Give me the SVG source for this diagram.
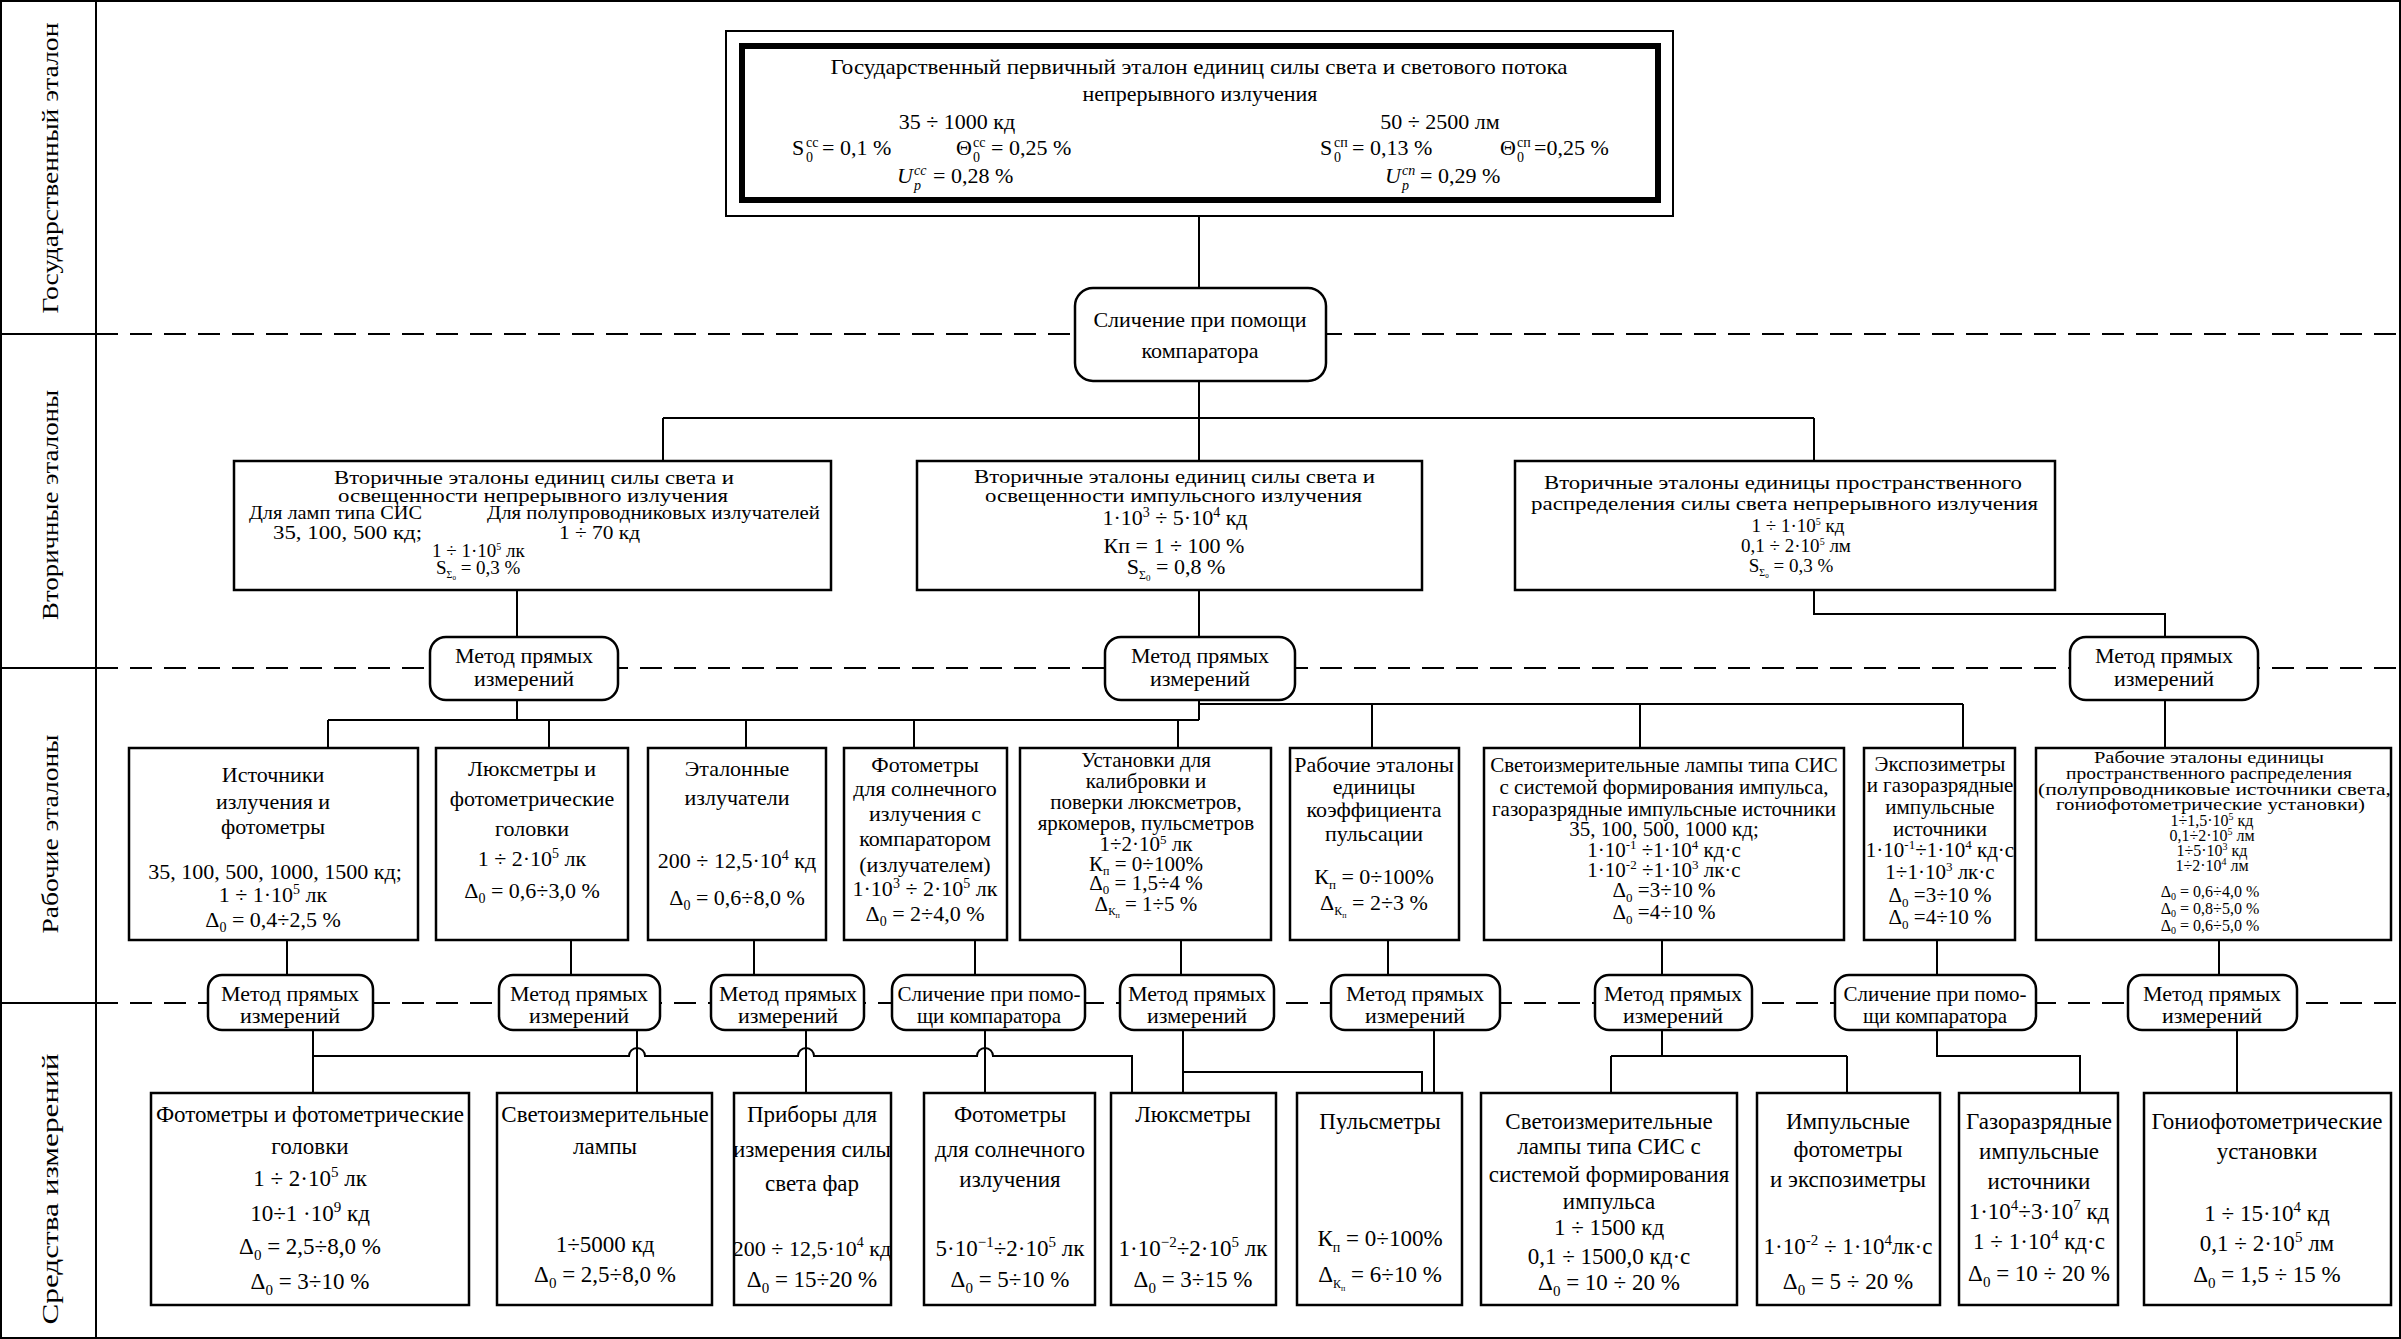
<svg xmlns="http://www.w3.org/2000/svg" width="2401" height="1339" viewBox="0 0 2401 1339">
<style>
.t{font-family:"Liberation Serif","Times New Roman",serif;fill:#000}
.c{text-anchor:middle}
.f14{font-size:14px}.f15{font-size:15px}.f16{font-size:16px}.f19{font-size:19px}.f21{font-size:21px}.f22{font-size:22px}.f23{font-size:23px}.f24{font-size:24px}
.i{font-style:italic}
.box{fill:#fff;stroke:#000;stroke-width:2.5}
.conn path{fill:none;stroke:#000;stroke-width:2}
.dash{stroke:#000;stroke-width:2;stroke-dasharray:22 12;fill:none}
.frame{fill:none;stroke:#000;stroke-width:2}
</style>
<rect x="0" y="0" width="2401" height="1339" fill="#fff"/>
<g id="frame">
<rect class="frame" x="1" y="1" width="2399" height="1337"/>
<path class="frame" d="M96 0V1339M0 334H96M0 668H96M0 1003H96"/>
<path class="dash" d="M96 334H2401M96 668H2401M96 1003H2401"/>
<text class="t f24 c" transform="translate(50,168) rotate(-90)" y="8" textLength="291" lengthAdjust="spacingAndGlyphs">Государственный эталон</text>
<text class="t f24 c" transform="translate(50,505) rotate(-90)" y="8" textLength="230" lengthAdjust="spacingAndGlyphs">Вторичные эталоны</text>
<text class="t f24 c" transform="translate(50,834) rotate(-90)" y="8" textLength="199" lengthAdjust="spacingAndGlyphs">Рабочие эталоны</text>
<text class="t f24 c" transform="translate(50,1189) rotate(-90)" y="8" textLength="271" lengthAdjust="spacingAndGlyphs">Средства измерений</text>
</g>
<g class="conn" id="connectors">
<path d="M1199 216V288"/>
<path d="M1199 381V418M663 418H1814M663 418V461M1199 418V461M1814 418V461"/>
<path d="M517 590V637M1199 590V637M1814 590V614H2165V637"/>
<path d="M517 700V720M328 720H1199M328 720V748M549 720V748M746 720V748M914 720V748M1178 720V748"/>
<path d="M1199 700V720M1199 704H1963M1372 704V748M1640 704V748M1963 704V748"/>
<path d="M2165 700V748"/>
<path d="M287 940V975M571 940V975M754 940V975M975 940V975M1181 940V975M1388 940V975M1662 940V975M1937 940V975M2219 940V975"/>
<path d="M313 1029V1093M313 1056H629A8 8 0 0 1 645 1056H798A8 8 0 0 1 814 1056H977A8 8 0 0 1 993 1056H1132V1093"/>
<path d="M637 1029V1093M806 1029V1093M985 1029V1093"/>
<path d="M1183 1029V1093M1183 1072H1422V1093M1434 1029V1093"/>
<path d="M1662 1029V1056M1611 1056H1847M1611 1056V1093M1847 1056V1093"/>
<path d="M1937 1029V1056H2080V1093"/>
<path d="M2237 1029V1093"/>
</g>
<g id="primary">
<rect x="726" y="31" width="947" height="185" fill="#fff" stroke="#000" stroke-width="2"/>
<rect x="742" y="46" width="916" height="154" fill="none" stroke="#000" stroke-width="6"/>
<text class="t f22 c" x="1199" y="74" textLength="737" lengthAdjust="spacingAndGlyphs">Государственный первичный эталон единиц силы света и светового потока</text>
<text class="t f22 c" x="1200" y="101">непрерывного излучения</text>
<text class="t f22 c" x="957" y="129">35 ÷ 1000 кд</text>
<text class="t f22 c" x="1440" y="129">50 ÷ 2500 лм</text>
<text class="t f22" x="792" y="155">S</text><text class="t f14" x="806" y="147">сс</text><text class="t f14" x="806" y="162">0</text><text class="t f22" x="822" y="155">= 0,1 %</text>
<text class="t f22" x="956" y="155">Θ</text><text class="t f14" x="973" y="147">сс</text><text class="t f14" x="973" y="162">0</text><text class="t f22" x="991" y="155">= 0,25 %</text>
<text class="t f22" x="1320" y="155">S</text><text class="t f14" x="1334" y="147">сп</text><text class="t f14" x="1334" y="162">0</text><text class="t f22" x="1352" y="155">= 0,13 %</text>
<text class="t f22" x="1500" y="155">Θ</text><text class="t f14" x="1517" y="147">сп</text><text class="t f14" x="1517" y="162">0</text><text class="t f22" x="1534" y="155">=0,25 %</text>
<text class="t f22 i" x="897" y="183">U</text><text class="t f14 i" x="914" y="175">сс</text><text class="t f14 i" x="914" y="190">p</text><text class="t f22" x="933" y="183">= 0,28 %</text>
<text class="t f22 i" x="1385" y="183">U</text><text class="t f14 i" x="1402" y="175">сп</text><text class="t f14 i" x="1402" y="190">p</text><text class="t f22" x="1420" y="183">= 0,29 %</text>
</g>
<g id="comparator">
<rect class="box" x="1075" y="288" width="251" height="93" rx="18"/>
<text class="t f22 c" x="1200" y="327">Сличение при помощи</text>
<text class="t f22 c" x="1200" y="358">компаратора</text>
</g>
<g id="sec1">
<rect class="box" x="234" y="461" width="597" height="129"/>
<text class="t f19" x="334" y="484" textLength="400" lengthAdjust="spacingAndGlyphs">Вторичные эталоны единиц силы света и</text>
<text class="t f19" x="338" y="502" textLength="390" lengthAdjust="spacingAndGlyphs">освещенности непрерывного излучения</text>
<text class="t f19" x="249" y="519" textLength="173" lengthAdjust="spacingAndGlyphs">Для ламп типа СИС</text>
<text class="t f19" x="487" y="519" textLength="333" lengthAdjust="spacingAndGlyphs">Для полупроводниковых излучателей</text>
<text class="t f19" x="273" y="539" textLength="149" lengthAdjust="spacingAndGlyphs">35, 100, 500 кд;</text>
<text class="t f19" x="559" y="539" textLength="81" lengthAdjust="spacingAndGlyphs">1 ÷ 70 кд</text>
<text class="t f19" x="432" y="557">1 ÷ 1·10<tspan dy="-7" font-size="10">5</tspan><tspan dy="7"> лк</tspan></text>
<text class="t f19" x="436" y="574">S<tspan dy="4" font-size="10">Σ</tspan><tspan dy="2" font-size="7">0</tspan><tspan dy="-6"> = 0,3 %</tspan></text>
</g>
<g id="sec2">
<rect class="box" x="917" y="461" width="505" height="129"/>
<text class="t f19" x="974" y="483" textLength="401" lengthAdjust="spacingAndGlyphs">Вторичные эталоны единиц силы света и</text>
<text class="t f19" x="985" y="502" textLength="377" lengthAdjust="spacingAndGlyphs">освещенности импульсного излучения</text>
<text class="t f22 c" x="1175" y="525">1·10<tspan dy="-8" font-size="14">3</tspan><tspan dy="8"> ÷ 5·10</tspan><tspan dy="-8" font-size="14">4</tspan><tspan dy="8"> кд</tspan></text>
<text class="t f22 c" x="1174" y="553">Кп = 1 ÷ 100 %</text>
<text class="t f22 c" x="1176" y="574">S<tspan dy="5" font-size="12">Σ</tspan><tspan dy="2" font-size="9">0</tspan><tspan dy="-7"> = 0,8 %</tspan></text>
</g>
<g id="sec3">
<rect class="box" x="1515" y="461" width="540" height="129"/>
<text class="t f19" x="1544" y="489" textLength="478" lengthAdjust="spacingAndGlyphs">Вторичные эталоны единицы пространственного</text>
<text class="t f19" x="1531" y="510" textLength="507" lengthAdjust="spacingAndGlyphs">распределения силы света непрерывного излучения</text>
<text class="t f19 c" x="1798" y="532">1 ÷ 1·10<tspan dy="-7" font-size="10">5</tspan><tspan dy="7"> кд</tspan></text>
<text class="t f19 c" x="1796" y="552">0,1 ÷ 2·10<tspan dy="-7" font-size="10">5</tspan><tspan dy="7"> лм</tspan></text>
<text class="t f19 c" x="1791" y="572">S<tspan dy="4" font-size="10">Σ</tspan><tspan dy="2" font-size="7">0</tspan><tspan dy="-6"> = 0,3 %</tspan></text>
</g>
<g id="meth2a"><rect class="box" x="430" y="637" width="188" height="63" rx="16"/>
<text class="t f22 c" x="524" y="663">Метод прямых</text><text class="t f22 c" x="524" y="686">измерений</text></g>
<g id="meth2b"><rect class="box" x="1105" y="637" width="190" height="63" rx="16"/>
<text class="t f22 c" x="1200" y="663">Метод прямых</text><text class="t f22 c" x="1200" y="686">измерений</text></g>
<g id="meth2c"><rect class="box" x="2070" y="637" width="188" height="63" rx="16"/>
<text class="t f22 c" x="2164" y="663">Метод прямых</text><text class="t f22 c" x="2164" y="686">измерений</text></g>

<g id="w1"><rect class="box" x="129" y="748" width="289" height="192"/>
<text class="t f22 c" x="273" y="782">Источники</text>
<text class="t f22 c" x="273" y="809">излучения и</text>
<text class="t f22 c" x="273" y="834">фотометры</text>
<text class="t f22 c" x="275" y="879">35, 100, 500, 1000, 1500 кд;</text>
<text class="t f22 c" x="273" y="902">1 ÷ 1·10<tspan dy="-8" font-size="14">5</tspan><tspan dy="8"> лк</tspan></text>
<text class="t f22 c" x="273" y="927">Δ<tspan dy="5" font-size="14">0</tspan><tspan dy="-5"> = 0,4÷2,5 %</tspan></text></g>
<g id="w2"><rect class="box" x="436" y="748" width="192" height="192"/>
<text class="t f22 c" x="532" y="776">Люксметры и</text>
<text class="t f22 c" x="532" y="806">фотометрические</text>
<text class="t f22 c" x="532" y="836">головки</text>
<text class="t f22 c" x="532" y="866">1 ÷ 2·10<tspan dy="-8" font-size="14">5</tspan><tspan dy="8"> лк</tspan></text>
<text class="t f22 c" x="532" y="898">Δ<tspan dy="5" font-size="14">0</tspan><tspan dy="-5"> = 0,6÷3,0 %</tspan></text></g>
<g id="w3"><rect class="box" x="648" y="748" width="178" height="192"/>
<text class="t f22 c" x="737" y="776">Эталонные</text>
<text class="t f22 c" x="737" y="805">излучатели</text>
<text class="t f22 c" x="737" y="868">200 ÷ 12,5·10<tspan dy="-8" font-size="14">4</tspan><tspan dy="8"> кд</tspan></text>
<text class="t f22 c" x="737" y="905">Δ<tspan dy="5" font-size="14">0</tspan><tspan dy="-5"> = 0,6÷8,0 %</tspan></text></g>
<g id="w4"><rect class="box" x="844" y="748" width="163" height="192"/>
<text class="t f22 c" x="925" y="772">Фотометры</text>
<text class="t f22 c" x="925" y="796">для солнечного</text>
<text class="t f22 c" x="925" y="821">излучения с</text>
<text class="t f22 c" x="925" y="846">компаратором</text>
<text class="t f22 c" x="925" y="872">(излучателем)</text>
<text class="t f22 c" x="925" y="896">1·10<tspan dy="-8" font-size="14">3</tspan><tspan dy="8"> ÷ 2·10</tspan><tspan dy="-8" font-size="14">5</tspan><tspan dy="8"> лк</tspan></text>
<text class="t f22 c" x="925" y="921">Δ<tspan dy="5" font-size="14">0</tspan><tspan dy="-5"> = 2÷4,0 %</tspan></text></g>
<g id="w5"><rect class="box" x="1020" y="748" width="251" height="192"/>
<text class="t f21 c" x="1146" y="767">Установки для</text>
<text class="t f21 c" x="1146" y="788">калибровки и</text>
<text class="t f21 c" x="1146" y="809">поверки люксметров,</text>
<text class="t f21 c" x="1146" y="830">яркомеров, пульсметров</text>
<text class="t f21 c" x="1146" y="851">1÷2·10<tspan dy="-7" font-size="13">5</tspan><tspan dy="7"> лк</tspan></text>
<text class="t f21 c" x="1146" y="871">К<tspan dy="4" font-size="12">п</tspan><tspan dy="-4"> = 0÷100%</tspan></text>
<text class="t f21 c" x="1146" y="890">Δ<tspan dy="4" font-size="13">0</tspan><tspan dy="-4"> = 1,5÷4 %</tspan></text>
<text class="t f21 c" x="1146" y="911">Δ<tspan dy="4" font-size="11">К</tspan><tspan dy="3" font-size="8">п</tspan><tspan dy="-7"> = 1÷5 %</tspan></text></g>
<g id="w6"><rect class="box" x="1290" y="748" width="169" height="192"/>
<text class="t f22 c" x="1374" y="772">Рабочие эталоны</text>
<text class="t f22 c" x="1374" y="794">единицы</text>
<text class="t f22 c" x="1374" y="817">коэффициента</text>
<text class="t f22 c" x="1374" y="841">пульсации</text>
<text class="t f22 c" x="1374" y="884">К<tspan dy="5" font-size="13">п</tspan><tspan dy="-5"> = 0÷100%</tspan></text>
<text class="t f22 c" x="1374" y="910">Δ<tspan dy="5" font-size="12">К</tspan><tspan dy="3" font-size="8">п</tspan><tspan dy="-8"> = 2÷3 %</tspan></text></g>
<g id="w7"><rect class="box" x="1484" y="748" width="360" height="192"/>
<text class="t f21 c" x="1664" y="772">Светоизмерительные лампы типа СИС</text>
<text class="t f21 c" x="1664" y="794">с системой формирования импульса,</text>
<text class="t f21 c" x="1664" y="816">газоразрядные импульсные источники</text>
<text class="t f21 c" x="1664" y="836">35, 100, 500, 1000 кд;</text>
<text class="t f21 c" x="1664" y="857">1·10<tspan dy="-8" font-size="13">-1</tspan><tspan dy="8"> ÷1·10</tspan><tspan dy="-8" font-size="13">4</tspan><tspan dy="8"> кд·с</tspan></text>
<text class="t f21 c" x="1664" y="877">1·10<tspan dy="-8" font-size="13">-2</tspan><tspan dy="8"> ÷1·10</tspan><tspan dy="-8" font-size="13">3</tspan><tspan dy="8"> лк·с</tspan></text>
<text class="t f21 c" x="1664" y="897">Δ<tspan dy="5" font-size="13">0</tspan><tspan dy="-5"> =3÷10 %</tspan></text>
<text class="t f21 c" x="1664" y="919">Δ<tspan dy="5" font-size="13">0</tspan><tspan dy="-5"> =4÷10 %</tspan></text></g>
<g id="w8"><rect class="box" x="1864" y="748" width="151" height="192"/>
<text class="t f21 c" x="1940" y="771">Экспозиметры</text>
<text class="t f21 c" x="1940" y="792">и газоразрядные</text>
<text class="t f21 c" x="1940" y="814">импульсные</text>
<text class="t f21 c" x="1940" y="836">источники</text>
<text class="t f21 c" x="1940" y="857">1·10<tspan dy="-8" font-size="13">-1</tspan><tspan dy="8">÷1·10</tspan><tspan dy="-8" font-size="13">4</tspan><tspan dy="8"> кд·с</tspan></text>
<text class="t f21 c" x="1940" y="879">1÷1·10<tspan dy="-8" font-size="13">3</tspan><tspan dy="8"> лк·с</tspan></text>
<text class="t f21 c" x="1940" y="902">Δ<tspan dy="5" font-size="13">0</tspan><tspan dy="-5"> =3÷10 %</tspan></text>
<text class="t f21 c" x="1940" y="924">Δ<tspan dy="5" font-size="13">0</tspan><tspan dy="-5"> =4÷10 %</tspan></text></g>
<g id="w9"><rect class="box" x="2036" y="748" width="355" height="192"/>
<text class="t f16" x="2094" y="763" textLength="230" lengthAdjust="spacingAndGlyphs">Рабочие эталоны единицы</text>
<text class="t f16" x="2066" y="779" textLength="286" lengthAdjust="spacingAndGlyphs">пространственного распределения</text>
<text class="t f16" x="2038" y="795" textLength="353" lengthAdjust="spacingAndGlyphs">(полупроводниковые источники света,</text>
<text class="t f16" x="2056" y="810" textLength="309" lengthAdjust="spacingAndGlyphs">гониофотометрические установки)</text>
<text class="t f16 c" x="2212" y="826">1÷1,5·10<tspan dy="-6" font-size="10">5</tspan><tspan dy="6"> кд</tspan></text>
<text class="t f16 c" x="2212" y="841">0,1÷2·10<tspan dy="-6" font-size="10">5</tspan><tspan dy="6"> лм</tspan></text>
<text class="t f16 c" x="2212" y="856">1÷5·10<tspan dy="-6" font-size="10">3</tspan><tspan dy="6"> кд</tspan></text>
<text class="t f16 c" x="2212" y="871">1÷2·10<tspan dy="-6" font-size="10">4</tspan><tspan dy="6"> лм</tspan></text>
<text class="t f16 c" x="2210" y="897">Δ<tspan dy="3" font-size="10">0</tspan><tspan dy="-3">  = 0,6÷4,0 %</tspan></text>
<text class="t f16 c" x="2210" y="914">Δ<tspan dy="3" font-size="10">0</tspan><tspan dy="-3">  = 0,8÷5,0 %</tspan></text>
<text class="t f16 c" x="2210" y="931">Δ<tspan dy="3" font-size="10">0</tspan><tspan dy="-3">  = 0,6÷5,0 %</tspan></text></g>

<g id="m1"><rect class="box" x="208" y="975" width="165" height="55" rx="14"/>
<text class="t f22 c" x="290" y="1001">Метод прямых</text><text class="t f22 c" x="290" y="1023">измерений</text></g>
<g id="m2"><rect class="box" x="499" y="975" width="161" height="55" rx="14"/>
<text class="t f22 c" x="579" y="1001">Метод прямых</text><text class="t f22 c" x="579" y="1023">измерений</text></g>
<g id="m3"><rect class="box" x="711" y="975" width="153" height="55" rx="14"/>
<text class="t f22 c" x="788" y="1001">Метод прямых</text><text class="t f22 c" x="788" y="1023">измерений</text></g>
<g id="m4"><rect class="box" x="892" y="975" width="193" height="55" rx="14"/>
<text class="t f21 c" x="989" y="1001">Сличение при помо-</text><text class="t f21 c" x="989" y="1023">щи компаратора</text></g>
<g id="m5"><rect class="box" x="1120" y="975" width="154" height="55" rx="14"/>
<text class="t f22 c" x="1197" y="1001">Метод прямых</text><text class="t f22 c" x="1197" y="1023">измерений</text></g>
<g id="m6"><rect class="box" x="1331" y="975" width="169" height="55" rx="14"/>
<text class="t f22 c" x="1415" y="1001">Метод прямых</text><text class="t f22 c" x="1415" y="1023">измерений</text></g>
<g id="m7"><rect class="box" x="1595" y="975" width="157" height="55" rx="14"/>
<text class="t f22 c" x="1673" y="1001">Метод прямых</text><text class="t f22 c" x="1673" y="1023">измерений</text></g>
<g id="m8"><rect class="box" x="1835" y="975" width="201" height="55" rx="14"/>
<text class="t f21 c" x="1935" y="1001">Сличение при помо-</text><text class="t f21 c" x="1935" y="1023">щи компаратора</text></g>
<g id="m9"><rect class="box" x="2128" y="975" width="169" height="55" rx="14"/>
<text class="t f22 c" x="2212" y="1001">Метод прямых</text><text class="t f22 c" x="2212" y="1023">измерений</text></g>

<g id="b1"><rect class="box" x="151" y="1093" width="318" height="212"/>
<text class="t f23 c" x="310" y="1122">Фотометры и фотометрические</text>
<text class="t f23 c" x="310" y="1154">головки</text>
<text class="t f23 c" x="310" y="1186">1 ÷ 2·10<tspan dy="-9" font-size="15">5</tspan><tspan dy="9"> лк</tspan></text>
<text class="t f23 c" x="310" y="1221">10÷1 ·10<tspan dy="-9" font-size="15">9</tspan><tspan dy="9">  кд</tspan></text>
<text class="t f23 c" x="310" y="1254">Δ<tspan dy="6" font-size="15">0</tspan><tspan dy="-6"> = 2,5÷8,0 %</tspan></text>
<text class="t f23 c" x="310" y="1289">Δ<tspan dy="6" font-size="15">0</tspan><tspan dy="-6"> = 3÷10 %</tspan></text></g>
<g id="b2"><rect class="box" x="497" y="1093" width="215" height="212"/>
<text class="t f23 c" x="605" y="1122">Светоизмерительные</text>
<text class="t f23 c" x="605" y="1154">лампы</text>
<text class="t f23 c" x="605" y="1252">1÷5000 кд</text>
<text class="t f23 c" x="605" y="1282">Δ<tspan dy="6" font-size="15">0</tspan><tspan dy="-6"> = 2,5÷8,0 %</tspan></text></g>
<g id="b3"><rect class="box" x="734" y="1093" width="157" height="212"/>
<text class="t f23 c" x="812" y="1122">Приборы для</text>
<text class="t f23 c" x="812" y="1157">измерения силы</text>
<text class="t f23 c" x="812" y="1191">света фар</text>
<text class="t f22 c" x="812" y="1256">200 ÷ 12,5·10<tspan dy="-9" font-size="14">4</tspan><tspan dy="9"> кд</tspan></text>
<text class="t f23 c" x="812" y="1287">Δ<tspan dy="6" font-size="15">0</tspan><tspan dy="-6"> = 15÷20 %</tspan></text></g>
<g id="b4"><rect class="box" x="924" y="1093" width="171" height="212"/>
<text class="t f23 c" x="1010" y="1122">Фотометры</text>
<text class="t f23 c" x="1010" y="1157">для солнечного</text>
<text class="t f23 c" x="1010" y="1187">излучения</text>
<text class="t f23 c" x="1010" y="1256">5·10<tspan dy="-9" font-size="15">−1</tspan><tspan dy="9">÷2·10</tspan><tspan dy="-9" font-size="15">5</tspan><tspan dy="9"> лк</tspan></text>
<text class="t f23 c" x="1010" y="1287">Δ<tspan dy="6" font-size="15">0</tspan><tspan dy="-6"> = 5÷10 %</tspan></text></g>
<g id="b5"><rect class="box" x="1111" y="1093" width="165" height="212"/>
<text class="t f23 c" x="1193" y="1122">Люксметры</text>
<text class="t f23 c" x="1193" y="1256">1·10<tspan dy="-9" font-size="15">−2</tspan><tspan dy="9">÷2·10</tspan><tspan dy="-9" font-size="15">5</tspan><tspan dy="9"> лк</tspan></text>
<text class="t f23 c" x="1193" y="1287">Δ<tspan dy="6" font-size="15">0</tspan><tspan dy="-6"> = 3÷15 %</tspan></text></g>
<g id="b6"><rect class="box" x="1297" y="1093" width="165" height="212"/>
<text class="t f23 c" x="1380" y="1129">Пульсметры</text>
<text class="t f23 c" x="1380" y="1246">К<tspan dy="6" font-size="14">п</tspan><tspan dy="-6"> = 0÷100%</tspan></text>
<text class="t f23 c" x="1380" y="1282">Δ<tspan dy="6" font-size="12">К</tspan><tspan dy="3" font-size="8">п</tspan><tspan dy="-9"> = 6÷10 %</tspan></text></g>
<g id="b7"><rect class="box" x="1481" y="1093" width="256" height="212"/>
<text class="t f23 c" x="1609" y="1129">Светоизмерительные</text>
<text class="t f23 c" x="1609" y="1154">лампы типа СИС с</text>
<text class="t f23 c" x="1609" y="1182">системой формирования</text>
<text class="t f23 c" x="1609" y="1209">импульса</text>
<text class="t f23 c" x="1609" y="1235">1 ÷ 1500 кд</text>
<text class="t f23 c" x="1609" y="1264">0,1 ÷ 1500,0 кд·с</text>
<text class="t f23 c" x="1609" y="1290">Δ<tspan dy="6" font-size="15">0</tspan><tspan dy="-6">  = 10 ÷ 20 %</tspan></text></g>
<g id="b8"><rect class="box" x="1757" y="1093" width="183" height="212"/>
<text class="t f23 c" x="1848" y="1129">Импульсные</text>
<text class="t f23 c" x="1848" y="1157">фотометры</text>
<text class="t f23 c" x="1848" y="1187">и экспозиметры</text>
<text class="t f23 c" x="1848" y="1254">1·10<tspan dy="-9" font-size="15">-2</tspan><tspan dy="9"> ÷ 1·10</tspan><tspan dy="-9" font-size="15">4</tspan><tspan dy="9">лк·с</tspan></text>
<text class="t f23 c" x="1848" y="1289">Δ<tspan dy="6" font-size="15">0</tspan><tspan dy="-6">  = 5 ÷ 20 %</tspan></text></g>
<g id="b9"><rect class="box" x="1959" y="1093" width="159" height="212"/>
<text class="t f23 c" x="2039" y="1129">Газоразрядные</text>
<text class="t f23 c" x="2039" y="1159">импульсные</text>
<text class="t f23 c" x="2039" y="1189">источники</text>
<text class="t f23 c" x="2039" y="1219">1·10<tspan dy="-9" font-size="15">4</tspan><tspan dy="9">÷3·10</tspan><tspan dy="-9" font-size="15">7</tspan><tspan dy="9"> кд</tspan></text>
<text class="t f23 c" x="2039" y="1249">1 ÷ 1·10<tspan dy="-9" font-size="15">4</tspan><tspan dy="9"> кд·с</tspan></text>
<text class="t f23 c" x="2039" y="1281">Δ<tspan dy="6" font-size="15">0</tspan><tspan dy="-6">  = 10 ÷ 20 %</tspan></text></g>
<g id="b10"><rect class="box" x="2144" y="1093" width="247" height="212"/>
<text class="t f23 c" x="2267" y="1129">Гониофотометрические</text>
<text class="t f23 c" x="2267" y="1159">установки</text>
<text class="t f23 c" x="2267" y="1221">1 ÷ 15·10<tspan dy="-9" font-size="15">4</tspan><tspan dy="9"> кд</tspan></text>
<text class="t f23 c" x="2267" y="1251">0,1 ÷ 2·10<tspan dy="-9" font-size="15">5</tspan><tspan dy="9"> лм</tspan></text>
<text class="t f23 c" x="2267" y="1282">Δ<tspan dy="6" font-size="15">0</tspan><tspan dy="-6">  = 1,5 ÷ 15 %</tspan></text></g>
</svg>
